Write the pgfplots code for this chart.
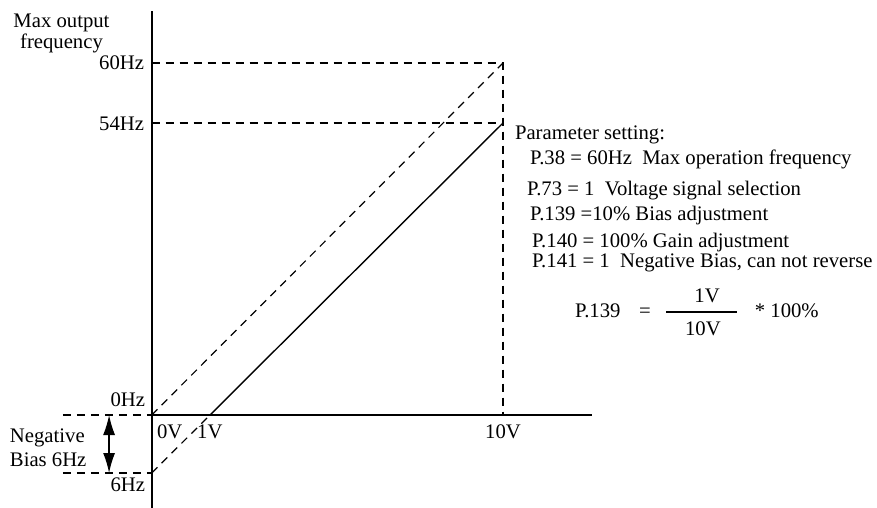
\documentclass[border=0pt]{standalone}
\usepackage{fontspec}
\setmainfont{Liberation Serif}
\usepackage{pgfplots}
\pgfplotsset{compat=1.18}
\usetikzlibrary{arrows.meta}
\begin{document}
\begin{tikzpicture}[every node/.style={font=\fontsize{10.35}{12}\selectfont, inner sep=0pt, outer sep=0pt}]
\begin{axis}[
  width=438.5pt, height=254pt, scale only axis,
  xmin=-4.318, xmax=20.645, ymin=-15.85, ymax=70.73,
  axis lines=none, clip=false,
]
% axes
\addplot[black, line width=0.9pt] coordinates {(0,-15.85) (0,68.86)};
\addplot[black, line width=0.9pt] coordinates {(0,0) (12.53,0)};
% dashed guides
\addplot[black, line width=0.6pt, dash pattern=on 4pt off 3pt] coordinates {(0,60) (10,60) (10,0)};
\addplot[black, line width=0.6pt, dash pattern=on 4pt off 3pt] coordinates {(0,49.77) (10,49.77)};
\addplot[black, line width=0.6pt, dash pattern=on 4pt off 3pt] coordinates {(0,0) (10,60)};
\addplot[black, line width=0.6pt, dash pattern=on 4pt off 3pt] coordinates {(0,-9.886) (1.66,0)};
\addplot[black, line width=0.6pt, dash pattern=on 4pt off 3pt] coordinates {(-2.525,0) (0,0)};
\addplot[black, line width=0.6pt, dash pattern=on 4pt off 3pt] coordinates {(-2.525,-9.886) (0,-9.886)};
% solid characteristic line
\addplot[black, line width=0.7pt] coordinates {(1.66,0) (10,49.77)};
% bias arrow
\addplot[black, line width=0.7pt, {Latex[length=10pt,width=6pt]}-{Latex[length=10pt,width=6pt]}] coordinates {(-1.213,0) (-1.213,-9.886)};
% labels
\node[anchor=base] at (axis cs:-2.568,65.96) {Max output};
\node[anchor=base] at (axis cs:-2.568,62.38) {frequency};
\node[anchor=base east] at (axis cs:-0.219,58.80) {60Hz};
\node[anchor=base east] at (axis cs:-0.219,48.41) {54Hz};
\node[anchor=base east] at (axis cs:-0.191,1.364) {0Hz};
\node[anchor=base east] at (axis cs:-0.191,-13.12) {6Hz};
\node[anchor=base west] at (axis cs:-4.034,-4.602) {Negative};
\node[anchor=base west] at (axis cs:-4.034,-8.693) {Bias 6Hz};
\node[anchor=base west] at (axis cs:0.151,-3.92) {0V};
\node[anchor=base west] at (axis cs:1.295,-3.92) {1V};
\node[anchor=base] at (axis cs:10,-3.92) {10V};
% parameter block
\node[anchor=base west] at (axis cs:10.342,46.87) {Parameter setting:};
\node[anchor=base west] at (axis cs:10.769,42.61) {P.38 = 60Hz\ \ Max operation frequency};
\node[anchor=base west] at (axis cs:10.683,37.33) {P.73 = 1\ \ Voltage signal selection};
\node[anchor=base west] at (axis cs:10.769,33.07) {P.139 =10\% Bias adjustment};
\node[anchor=base west] at (axis cs:10.825,28.63) {P.140 = 100\% Gain adjustment};
\node[anchor=base west] at (axis cs:10.825,25.06) {P.141 = 1\ \ Negative Bias, can not reverse};
% formula
\node[anchor=base west] at (axis cs:12.05,16.70) {P.139};
\node[anchor=base] at (axis cs:14.04,16.70) {=};
\draw[black, line width=0.6pt] (axis cs:14.64,17.56) -- (axis cs:16.66,17.56);
\node[anchor=base] at (axis cs:15.81,19.09) {1V};
\node[anchor=base] at (axis cs:15.69,13.47) {10V};
\node[anchor=base west] at (axis cs:17.17,16.70) {* 100\%};
\end{axis}
\pgfresetboundingbox
\path[use as bounding box] (current axis.south west) rectangle (current axis.north east);
\end{tikzpicture}
\end{document}
